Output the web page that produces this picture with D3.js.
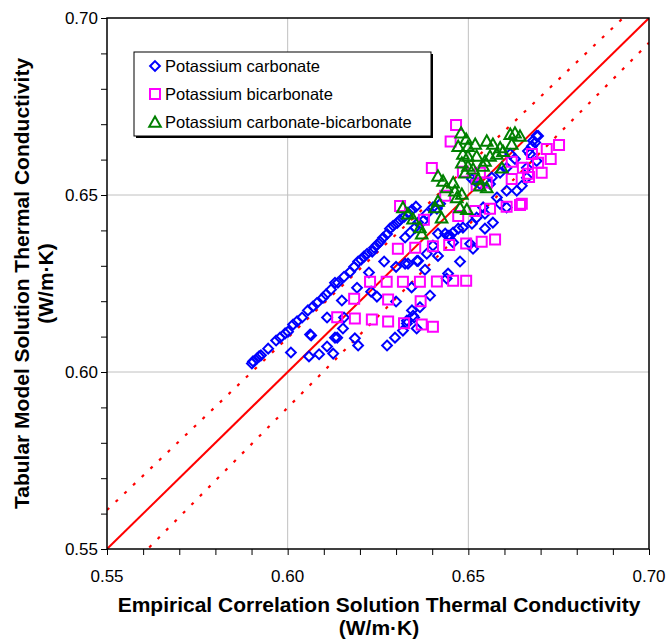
<!DOCTYPE html>
<meta charset="utf-8">
<head>
    <style>
        body {
            margin: 0;
            background: #fff;
        }

        svg {
            display: block;
            font-family: Arial, 'Liberation Sans', sans-serif;
        }

        .grid line {
            stroke: #c0c0c0;
            stroke-width: 1;
        }

        .tick-label {
            font-size: 17px;
            fill: #000;
        }

        .axis-title {
            font-size: 21px;
            font-weight: bold;
            fill: #000;
        }

        .legend text {
            font-size: 16.5px;
        }
    </style>
</head>
<body>
    <svg width="669" height="639"></svg>

    <script src="https://d3js.org/d3.v7.min.js"></script>

    <script type="text/javascript">

        // --- data (x = empirical correlation, y = tabular model), W/m-K ---
        var carbonate = [
            [0.5901, 0.6024], [0.5904, 0.6030], [0.5915, 0.6038], [0.5921, 0.6044], [0.5926, 0.6047],
            [0.5946, 0.6066], [0.5968, 0.6089], [0.5979, 0.6097], [0.5993, 0.6109], [0.6001, 0.6114],
            [0.6015, 0.6134], [0.6026, 0.6143], [0.6040, 0.6154], [0.6056, 0.6174], [0.6070, 0.6185],
            [0.6081, 0.6195], [0.6098, 0.6210], [0.6106, 0.6219], [0.6120, 0.6233], [0.6131, 0.6252],
            [0.6139, 0.6252], [0.6156, 0.6269], [0.6173, 0.6283], [0.6184, 0.6297], [0.6195, 0.6312],
            [0.6203, 0.6317], [0.6211, 0.6326], [0.6220, 0.6334], [0.6234, 0.6340], [0.6239, 0.6351],
            [0.6247, 0.6359], [0.6256, 0.6368], [0.6264, 0.6379], [0.6275, 0.6390], [0.6283, 0.6405],
            [0.6292, 0.6413], [0.6303, 0.6421], [0.6311, 0.6430], [0.6322, 0.6438], [0.6333, 0.6450],
            [0.6344, 0.6458], [0.6355, 0.6467],
            [0.6009, 0.6055], [0.6059, 0.6044], [0.6062, 0.6106], [0.6087, 0.6050], [0.6109, 0.6072],
            [0.6126, 0.6052], [0.6131, 0.6097], [0.6109, 0.6154], [0.6150, 0.6202], [0.6156, 0.6154],
            [0.6192, 0.6238], [0.6225, 0.6281], [0.6231, 0.6227], [0.6247, 0.6213], [0.6267, 0.6312],
            [0.6300, 0.6297], [0.6325, 0.6306], [0.6300, 0.6199], [0.6344, 0.6174], [0.6358, 0.6314],
            [0.6380, 0.6289], [0.6330, 0.6145], [0.6350, 0.6154], [0.6297, 0.6097], [0.6065, 0.6103],
            [0.6137, 0.6097], [0.6153, 0.6123], [0.6186, 0.6095], [0.6195, 0.6075], [0.6275, 0.6075],
            [0.6319, 0.6117],
            [0.6689, 0.6667], [0.6679, 0.6653], [0.6676, 0.6638], [0.6665, 0.6624], [0.6616, 0.6616],
            [0.6629, 0.6602], [0.6606, 0.6577], [0.6588, 0.6563], [0.6565, 0.6549], [0.6560, 0.6531],
            [0.6532, 0.6531], [0.6519, 0.6540], [0.6510, 0.6545], [0.6606, 0.6512], [0.6634, 0.6512],
            [0.6579, 0.6493], [0.6588, 0.6475], [0.6606, 0.6465], [0.6541, 0.6465], [0.6546, 0.6447],
            [0.6523, 0.6436], [0.6510, 0.6419], [0.6485, 0.6408], [0.6472, 0.6405], [0.6458, 0.6394],
            [0.6449, 0.6385], [0.6436, 0.6391], [0.6416, 0.6391], [0.6413, 0.6461], [0.6422, 0.6475],
            [0.6402, 0.6465], [0.6385, 0.6447], [0.6375, 0.6427], [0.6361, 0.6422], [0.6353, 0.6408],
            [0.6339, 0.6394], [0.6325, 0.6380], [0.6505, 0.6362], [0.6458, 0.6366], [0.6402, 0.6357],
            [0.6693, 0.6667], [0.6685, 0.6648], [0.6671, 0.6616], [0.6689, 0.6596], [0.6662, 0.6577],
            [0.6662, 0.6549], [0.6648, 0.6526],
            [0.6361, 0.6314], [0.6385, 0.6334], [0.6416, 0.6328], [0.6444, 0.6385], [0.6477, 0.6312],
            [0.6513, 0.6348], [0.6546, 0.6405], [0.6568, 0.6422], [0.6333, 0.6306], [0.6444, 0.6278],
            [0.6440, 0.6264], [0.6394, 0.6216], [0.6366, 0.6183], [0.6347, 0.6159], [0.6330, 0.6137],
            [0.6357, 0.6123], [0.6343, 0.6239]
        ];

        var bicarbonate = [
            [0.6228, 0.6255], [0.6274, 0.6255], [0.6319, 0.6255], [0.6366, 0.6255],
            [0.6184, 0.6207], [0.6278, 0.6205], [0.6368, 0.6200],
            [0.6137, 0.6155], [0.6186, 0.6151], [0.6233, 0.6148], [0.6278, 0.6143], [0.6322, 0.6138],
            [0.6371, 0.6134], [0.6402, 0.6128],
            [0.6305, 0.6348], [0.6353, 0.6351], [0.6402, 0.6355], [0.6447, 0.6359], [0.6494, 0.6363],
            [0.6537, 0.6368], [0.6574, 0.6374],
            [0.6413, 0.6256], [0.6458, 0.6258], [0.6494, 0.6258],
            [0.6466, 0.6698], [0.6451, 0.6651], [0.6399, 0.6576], [0.6485, 0.6566], [0.6436, 0.6498],
            [0.6472, 0.6441], [0.6519, 0.6455], [0.6560, 0.6461], [0.6606, 0.6467], [0.6643, 0.6472],
            [0.6620, 0.6545], [0.6676, 0.6616], [0.6717, 0.6630], [0.6703, 0.6563], [0.6651, 0.6577],
            [0.6620, 0.6594], [0.6665, 0.6560], [0.6532, 0.6563], [0.6551, 0.6535], [0.6523, 0.6528],
            [0.6751, 0.6641], [0.6728, 0.6602], [0.6693, 0.6591], [0.6668, 0.6551], [0.6648, 0.6475],
            [0.6311, 0.6469], [0.6377, 0.6430]
        ];

        var mixed = [
            [0.6480, 0.6676], [0.6494, 0.6658], [0.6472, 0.6638], [0.6499, 0.6638], [0.6519, 0.6644],
            [0.6551, 0.6653], [0.6568, 0.6644], [0.6588, 0.6634], [0.6616, 0.6672], [0.6629, 0.6676],
            [0.6643, 0.6667], [0.6620, 0.6644], [0.6596, 0.6624], [0.6579, 0.6616], [0.6560, 0.6610],
            [0.6546, 0.6596], [0.6523, 0.6610], [0.6499, 0.6610], [0.6485, 0.6616], [0.6482, 0.6591],
            [0.6499, 0.6582], [0.6513, 0.6574], [0.6491, 0.6563], [0.6593, 0.6577], [0.6541, 0.6582],
            [0.6416, 0.6554], [0.6430, 0.6540], [0.6458, 0.6535], [0.6440, 0.6521], [0.6463, 0.6512],
            [0.6482, 0.6503], [0.6468, 0.6493], [0.6527, 0.6545], [0.6532, 0.6526], [0.6551, 0.6521],
            [0.6416, 0.6483], [0.6408, 0.6465], [0.6496, 0.6460], [0.6477, 0.6465], [0.6426, 0.6436],
            [0.6319, 0.6465], [0.6333, 0.6447], [0.6347, 0.6433], [0.6366, 0.6408], [0.6371, 0.6391]
        ];

        var seriesNames = ["Potassium carbonate", "Potassium bicarbonate", "Potassium carbonate-bicarbonate"];

        // reference lines: 1:1 and the dotted band
        var parityLine = [[0.55, 0.55], [0.70, 0.70]];
        var upperBand = [[0.55, 0.561], [0.70, 0.707]];
        var lowerBand = [[0.55, 0.5384], [0.70, 0.693]];

        var majorTicks = [0.55, 0.60, 0.65, 0.70];
        var minorTicks = d3.range(0, 16).map(function (i) { return 0.55 + i * 0.01; });
        var gridTicks = [0.60, 0.65];

        var svg = d3.select("svg");

        var pLeft = 107, pRight = 649, pTop = 18, pBottom = 549;

        var x = d3.scaleLinear().domain([0.55, 0.70]).range([pLeft, pRight]);
        var y = d3.scaleLinear().domain([0.55, 0.70]).range([pBottom, pTop]);

        svg.append("rect")
            .attr("width", 669).attr("height", 639).attr("fill", "#fff");

        svg.append("defs").append("clipPath").attr("id", "plot")
            .append("rect")
            .attr("x", pLeft).attr("y", pTop)
            .attr("width", pRight - pLeft).attr("height", pBottom - pTop);

        // gridlines
        var grid = svg.append("g").attr("class", "grid");
        grid.selectAll("line.gx").data(gridTicks).enter().append("line")
            .attr("class", "gx")
            .attr("x1", function (d) { return x(d); }).attr("x2", function (d) { return x(d); })
            .attr("y1", pTop).attr("y2", pBottom);
        grid.selectAll("line.gy").data(gridTicks).enter().append("line")
            .attr("class", "gy")
            .attr("x1", pLeft).attr("x2", pRight)
            .attr("y1", function (d) { return y(d); }).attr("y2", function (d) { return y(d); });

        // axes (ticks every 0.01, labels only on the majors)
        var xAxis = d3.axisBottom(x).tickValues(minorTicks).tickSize(6).tickFormat("");
        var yAxis = d3.axisLeft(y).tickValues(minorTicks).tickSize(6).tickFormat("");

        svg.append("g").attr("transform", "translate(0," + pBottom + ")").call(xAxis)
            .call(function (g) { g.select(".domain").remove(); })
            .selectAll("line").attr("stroke", "#000");
        svg.append("g").attr("transform", "translate(" + pLeft + ",0)").call(yAxis)
            .call(function (g) { g.select(".domain").remove(); })
            .selectAll("line").attr("stroke", "#000");

        svg.append("g").selectAll("text").data(majorTicks).enter().append("text")
            .attr("class", "tick-label")
            .attr("x", function (d) { return x(d); })
            .attr("y", pBottom + 33)
            .attr("text-anchor", "middle")
            .text(function (d) { return d.toFixed(2); });

        svg.append("g").selectAll("text").data(majorTicks).enter().append("text")
            .attr("class", "tick-label")
            .attr("x", pLeft - 9)
            .attr("y", function (d) { return y(d) + 6; })
            .attr("text-anchor", "end")
            .text(function (d) { return d.toFixed(2); });

        // reference lines
        var line = d3.line()
            .x(function (d) { return x(d[0]); })
            .y(function (d) { return y(d[1]); });

        var refs = svg.append("g").attr("clip-path", "url(#plot)");
        refs.append("path").datum(parityLine).attr("d", line)
            .attr("stroke", "#ff0000").attr("stroke-width", 2).attr("fill", "none");
        refs.selectAll("path.band").data([upperBand, lowerBand]).enter().append("path")
            .attr("class", "band")
            .attr("d", line)
            .attr("stroke", "#ff0000").attr("stroke-width", 2.2).attr("fill", "none")
            .attr("stroke-dasharray", "3,9");

        // markers
        var diamond = "M0,-4.9L4.9,0L0,4.9L-4.9,0Z";
        var square = "M-5,-5H5V5H-5Z";
        var triangle = "M0,-5.5L5.8,4.8H-5.8Z";

        function drawSeries(data, shape, color) {
            svg.append("g").selectAll("path").data(data).enter().append("path")
                .attr("d", shape)
                .attr("transform", function (d) { return "translate(" + x(d[0]) + "," + y(d[1]) + ")"; })
                .attr("fill", "none")
                .attr("stroke", color)
                .attr("stroke-width", 2);
        }

        drawSeries(carbonate, diamond, "#0000ff");
        drawSeries(bicarbonate, square, "#ff00ff");
        drawSeries(mixed, triangle, "#008000");

        // frame
        svg.append("rect")
            .attr("x", pLeft).attr("y", pTop)
            .attr("width", pRight - pLeft).attr("height", pBottom - pTop)
            .attr("fill", "none").attr("stroke", "#000").attr("stroke-width", 1.5);

        // legend
        var legend = svg.append("g").attr("class", "legend");
        legend.append("rect")
            .attr("x", 136).attr("y", 54).attr("width", 297).attr("height", 84)
            .attr("fill", "#000");
        legend.append("rect")
            .attr("x", 134).attr("y", 52).attr("width", 297).attr("height", 84)
            .attr("fill", "#fff").attr("stroke", "#000").attr("stroke-width", 1);

        var shapes = [diamond, square, triangle];
        var colors = ["#0000ff", "#ff00ff", "#008000"];
        seriesNames.forEach(function (name, i) {
            var cy = 66 + i * 28;
            legend.append("path")
                .attr("d", shapes[i])
                .attr("transform", "translate(155," + cy + ")")
                .attr("fill", "none").attr("stroke", colors[i]).attr("stroke-width", 2);
            legend.append("text")
                .attr("x", 165).attr("y", cy + 6)
                .text(name);
        });

        // axis titles
        svg.append("text").attr("class", "axis-title")
            .attr("x", (pLeft + pRight) / 2 + 1).attr("y", 612)
            .attr("text-anchor", "middle")
            .text("Empirical Correlation Solution Thermal Conductivity");
        svg.append("text").attr("class", "axis-title")
            .attr("x", (pLeft + pRight) / 2 + 1).attr("y", 635)
            .attr("text-anchor", "middle")
            .text("(W/m\u00b7K)");

        var yt = (pTop + pBottom) / 2;
        svg.append("text").attr("class", "axis-title")
            .attr("transform", "translate(29," + yt + ") rotate(-90)")
            .attr("text-anchor", "middle")
            .text("Tabular Model Solution Thermal Conductivity");
        svg.append("text").attr("class", "axis-title")
            .attr("transform", "translate(53," + yt + ") rotate(-90)")
            .attr("text-anchor", "middle")
            .text("(W/m\u00b7K)");

    </script>
</body>
